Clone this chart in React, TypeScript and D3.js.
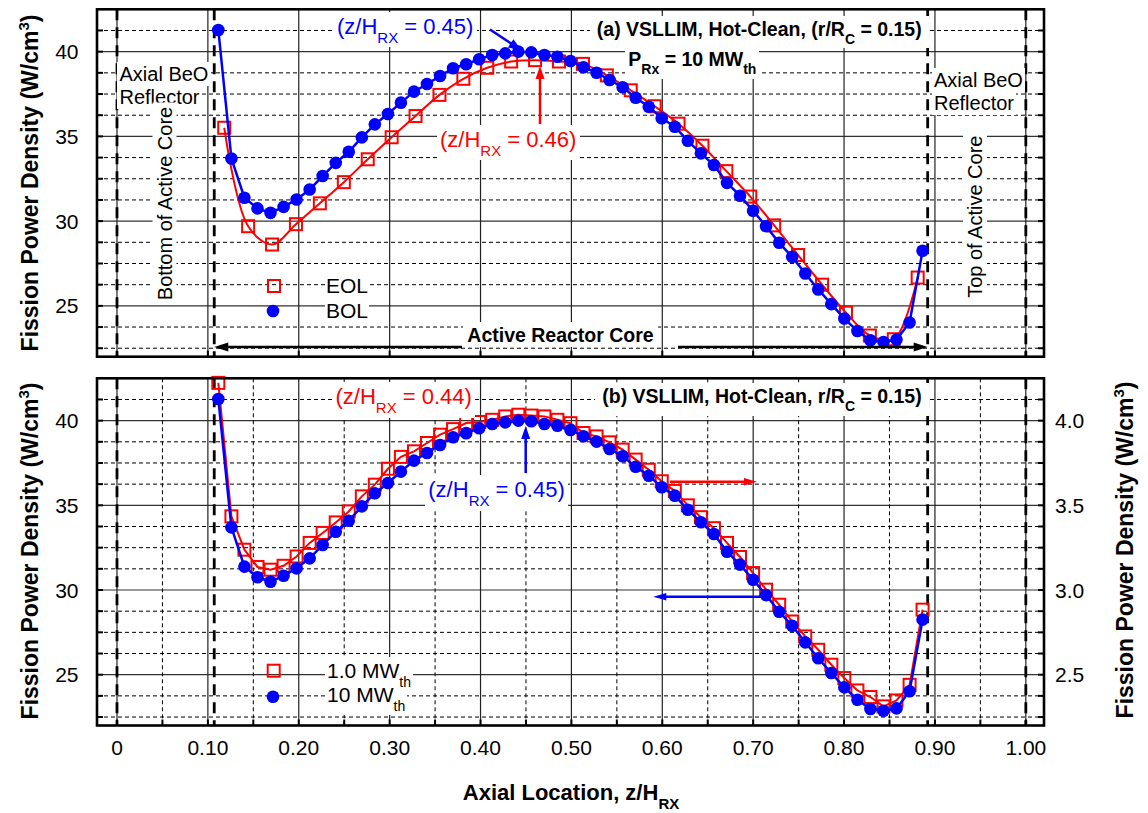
import React from "react";
import * as d3 from "d3";

// ---------------- data ----------------
const zBOL = [0.1115, 0.1259, 0.1402, 0.1546, 0.1689, 0.1833, 0.1976, 0.212, 0.2263, 0.2407, 0.255, 0.2694, 0.2837, 0.2981, 0.3124, 0.3268, 0.3411, 0.3555, 0.3698, 0.3842, 0.3985, 0.4129, 0.4272, 0.4416, 0.4559, 0.4703, 0.4846, 0.499, 0.5133, 0.5277, 0.542, 0.5564, 0.5707, 0.5851, 0.5994, 0.6138, 0.6281, 0.6425, 0.6568, 0.6712, 0.6855, 0.6999, 0.7142, 0.7286, 0.7429, 0.7573, 0.7716, 0.786, 0.8003, 0.8147, 0.829, 0.8434, 0.8577, 0.8721, 0.8864];
// BOL (top) and 10 MWth (bottom), W/cm3
const bolDensity = [41.28, 33.7, 31.38, 30.75, 30.49, 30.84, 31.28, 31.87, 32.66, 33.44, 34.09, 34.94, 35.71, 36.32, 36.99, 37.64, 38.09, 38.56, 39.02, 39.26, 39.55, 39.8, 39.9, 40.0, 39.96, 39.8, 39.7, 39.45, 39.08, 38.76, 38.33, 37.9, 37.28, 36.75, 36.07, 35.57, 34.74, 34.0, 33.31, 32.26, 31.5, 30.61, 29.7, 28.72, 27.89, 26.91, 25.97, 25.1, 24.25, 23.52, 22.97, 22.87, 23.01, 24.02, 28.25];
// EOL (top panel), W/cm3
const zEOL = [0.118, 0.1443, 0.1706, 0.1969, 0.2232, 0.2496, 0.2759, 0.3022, 0.3285, 0.3548, 0.3811, 0.4074, 0.4337, 0.46, 0.4863, 0.5127, 0.539, 0.5653, 0.5916, 0.6179, 0.6442, 0.6705, 0.6968, 0.7231, 0.7494, 0.7758, 0.8021, 0.8284, 0.8547, 0.881];
const eolDensity = [35.51, 29.7, 28.62, 29.82, 31.05, 32.3, 33.65, 34.95, 36.2, 37.45, 38.4, 39.05, 39.42, 39.5, 39.42, 39.28, 38.6, 37.72, 36.78, 35.75, 34.45, 32.95, 31.45, 29.75, 28.0, 26.25, 24.6, 23.25, 23.03, 26.67];
// 1.0 MWth (bottom panel, right axis), W/cm3
const mw1Density = [4.223, 3.435, 3.238, 3.136, 3.12, 3.143, 3.198, 3.278, 3.337, 3.399, 3.464, 3.553, 3.622, 3.716, 3.786, 3.819, 3.868, 3.917, 3.95, 3.986, 3.992, 4.005, 4.025, 4.035, 4.03, 4.025, 4.005, 3.985, 3.927, 3.907, 3.872, 3.829, 3.77, 3.71, 3.642, 3.585, 3.5, 3.43, 3.365, 3.278, 3.195, 3.1, 3.002, 2.913, 2.814, 2.726, 2.647, 2.559, 2.48, 2.407, 2.368, 2.313, 2.348, 2.44, 2.884];

const xMajorTicks = [0, 0.1, 0.2, 0.3, 0.4, 0.5, 0.6, 0.7, 0.8, 0.9, 1.0];
const xTickLabels = ["0", "0.10", "0.20", "0.30", "0.40", "0.50", "0.60", "0.70", "0.80", "0.90", "1.00"];
const xMinorTicks = [0.05, 0.15, 0.25, 0.35, 0.45, 0.55, 0.65, 0.75, 0.85, 0.95];
const yMajorTicks = [25, 30, 35, 40];
const yMinorTicks = [22.5, 23.75, 26.25, 27.5, 28.75, 31.25, 32.5, 33.75, 36.25, 37.5, 38.75, 41.25];
const yRightTicks = [2.5, 3.0, 3.5, 4.0];
const yRightLabels = ["2.5", "3.0", "3.5", "4.0"];
const reflectorBounds = [0, 1.0];
const coreBounds = [0.107, 0.892];

// ---------------- layout ----------------
const W = 1148, H = 813;
const X0 = 97, X1 = 1044;
const A_TOP = 9.3, A_BOT = 356.7;
const B_TOP = 378.3, B_BOT = 725.5;
const FONT = "'Liberation Sans', Arial, Helvetica, sans-serif";
const BLUE = "#0000ff";
const RED = "#ff0000";

const xS = d3.scaleLinear().domain([-0.022, 1.02]).range([X0, X1]);
const yA = d3.scaleLinear().domain([22, 42.5]).range([A_BOT, A_TOP]);
const yB = d3.scaleLinear().domain([22, 42.5]).range([B_BOT, B_TOP]);
const yBR = d3.scaleLinear().domain([2.2, 4.25]).range([B_BOT, B_TOP]);

function Arrow({ x1, y1, x2, y2, color, len = 12, hw = 4.5, sw = 2.5 }: any) {
  const dx = x2 - x1, dy = y2 - y1;
  const L = Math.hypot(dx, dy);
  const ux = dx / L, uy = dy / L;
  const bx = x2 - ux * len, by = y2 - uy * len;
  const px = -uy, py = ux;
  return (
    <g>
      <line x1={x1} y1={y1} x2={bx + ux} y2={by + uy} stroke={color} strokeWidth={sw} />
      <path d={`M${x2},${y2}L${bx + px * hw},${by + py * hw}L${bx - px * hw},${by - py * hw}Z`} fill={color} />
    </g>
  );
}

// text drawn on a white box (box layer + crisp text layer)
function BgText({ children, ...rest }: any) {
  return (
    <g>
      <text {...rest} filter="url(#wbg)">{children}</text>
      <text {...rest}>{children}</text>
    </g>
  );
}

function Grid({ y, top, bot, minorX }: any) {
  return (
    <g>
      {yMinorTicks.map((v) => (
        <line key={"hm" + v} x1={X0} x2={X1} y1={y(v)} y2={y(v)} stroke="#000" strokeWidth={1} strokeDasharray="4,3" />
      ))}
      {yMajorTicks.map((v) => (
        <line key={"hM" + v} x1={X0} x2={X1} y1={y(v)} y2={y(v)} stroke="#333" strokeWidth={1.2} />
      ))}
      {minorX &&
        xMinorTicks.map((v) => (
          <line key={"vm" + v} x1={xS(v)} x2={xS(v)} y1={top} y2={bot} stroke="#000" strokeWidth={1} strokeDasharray="4,3" />
        ))}
      {xMajorTicks.map((v) => (
        <line key={"vM" + v} x1={xS(v)} x2={xS(v)} y1={top} y2={bot} stroke="#222" strokeWidth={1.2} />
      ))}
      {[...reflectorBounds, ...coreBounds].map((v) => (
        <line key={"bd" + v} x1={xS(v)} x2={xS(v)} y1={top} y2={bot} stroke="#000" strokeWidth={2.8} strokeDasharray="11,7" />
      ))}
    </g>
  );
}

function Frame({ y, top, bot, minorX }: any) {
  const ticks = [...yMajorTicks, ...yMinorTicks];
  const xt = minorX ? [...xMajorTicks, ...xMinorTicks] : xMajorTicks;
  return (
    <g>
      {ticks.map((v) => (
        <g key={"t" + v}>
          <line x1={X0} x2={X0 + 6} y1={y(v)} y2={y(v)} stroke="#000" strokeWidth={2} />
          <line x1={X1 - 6} x2={X1} y1={y(v)} y2={y(v)} stroke="#000" strokeWidth={2} />
        </g>
      ))}
      {xt.map((v) => (
        <line key={"xt" + v} x1={xS(v)} x2={xS(v)} y1={bot} y2={bot - 6} stroke="#000" strokeWidth={2} />
      ))}
      <rect x={X0} y={top} width={X1 - X0} height={bot - top} fill="none" stroke="#000" strokeWidth={2.6} />
    </g>
  );
}

function Square({ cx, cy, s = 12 }: any) {
  return <rect x={cx - s / 2} y={cy - s / 2} width={s} height={s} fill="none" stroke={RED} strokeWidth={2} />;
}

function ZLabel({ x, y, color, value }: any) {
  return (
    <BgText x={x} y={y} fill={color} fontSize={22}>
      (z/H<tspan dy={9} fontSize={15}>RX</tspan>
      <tspan dy={-9}> = {value})</tspan>
    </BgText>
  );
}

function YLabel({ x, y }: any) {
  return (
    <text transform={`translate(${x},${y}) rotate(-90)`} textAnchor="middle" fontSize={23} fontWeight="bold">
      Fission Power Density (W/cm<tspan dy={-9} fontSize={15}>3</tspan>
      <tspan dy={9}>)</tspan>
    </text>
  );
}

function MWLegendText({ x, y, label, filter }: any) {
  return (
    <text x={x} y={y} fontSize={21} filter={filter}>
      {label}
      <tspan dy={9} fontSize={14}>th</tspan>
    </text>
  );
}

export default function App() {
  const lineA = d3.line<number>().x((_, i) => xS(zBOL[i])).y((d) => yA(d));
  const lineEOL = d3.line<number>().x((_, i) => xS(zEOL[i])).y((d) => yA(d)).curve(d3.curveCatmullRom.alpha(0.5));
  const lineB = d3.line<number>().x((_, i) => xS(zBOL[i])).y((d) => yB(d));
  const lineMW1 = d3.line<number>().x((_, i) => xS(zBOL[i])).y((d) => yBR(d));

  return (
    <svg width={W} height={H} style={{ position: "absolute", left: 0, top: 0, background: "#fff" }} fontFamily={FONT}>
      <defs>
        <filter id="wbg" x="-0.02" y="-0.04" width="1.04" height="1.08" colorInterpolationFilters="sRGB">
          <feFlood floodColor="#ffffff" result="bg" />
          <feMerge>
            <feMergeNode in="bg" />
          </feMerge>
        </filter>
      </defs>
      <rect x={0} y={0} width={W} height={H} fill="#fff" />

      {/* ---------- Panel (a) ---------- */}
      <Grid y={yA} top={A_TOP} bot={A_BOT} minorX={false} />
      <path d={lineEOL(eolDensity) || ""} fill="none" stroke={RED} strokeWidth={2} />
      {eolDensity.map((v, i) => (
        <Square key={"e" + i} cx={xS(zEOL[i])} cy={yA(v)} />
      ))}
      <path d={lineA(bolDensity) || ""} fill="none" stroke={BLUE} strokeWidth={2.5} />
      {bolDensity.map((v, i) => (
        <circle key={"b" + i} cx={xS(zBOL[i])} cy={yA(v)} r={6.3} fill={BLUE} />
      ))}

      <g fontSize={20}>
        <BgText x={119.5} y={81}>Axial BeO</BgText>
        <BgText x={119.5} y={104}>Reflector</BgText>
        <BgText x={934} y={87}>Axial BeO</BgText>
        <BgText x={934} y={110}>Reflector</BgText>
        <BgText transform="translate(171.5,203.5) rotate(-90)" textAnchor="middle">Bottom of Active Core</BgText>
        <BgText transform="translate(982,216.7) rotate(-90)" textAnchor="middle">Top of Active Core</BgText>
      </g>
      <ZLabel x={337} y={33.5} color={BLUE} value="0.45" />
      <ZLabel x={440} y={146.7} color={RED} value="0.46" />
      <Arrow x1={490} y1={29.5} x2={521.5} y2={50.5} color={BLUE} len={13} hw={5} />
      <Arrow x1={540} y1={124} x2={540} y2={66} color={RED} len={13} hw={4.5} />
      <BgText x={921.7} y={35.5} textAnchor="end" fontSize={19.5} fontWeight="bold">
        (a) VSLLIM, Hot-Clean, (r/R<tspan dy={8} fontSize={14}>C</tspan>
        <tspan dy={-8}> = 0.15)</tspan>
      </BgText>
      <BgText x={628.3} y={66} fontSize={19.5} fontWeight="bold">
        P<tspan dy={8} fontSize={14}>Rx</tspan>
        <tspan dy={-8}> = 10 MW</tspan>
        <tspan dy={8} fontSize={14}>th</tspan>
      </BgText>
      <Square cx={274} cy={286} />
      <circle cx={273} cy={311} r={6.3} fill={BLUE} />
      <g fontSize={21}>
        <text x={326} y={292.7} filter="url(#wbg)">EOL</text>
        <text x={326} y={317.7} filter="url(#wbg)">BOL</text>
        <text x={326} y={292.7}>EOL</text>
        <text x={326} y={317.7}>BOL</text>
      </g>
      <BgText x={560.5} y={341.5} textAnchor="middle" fontSize={19.5} fontWeight="bold">Active Reactor Core</BgText>
      <Arrow x1={462} y1={347} x2={xS(coreBounds[0])} y2={347} color="#000" len={14} hw={4.5} sw={2.5} />
      <Arrow x1={678} y1={347} x2={xS(coreBounds[1])} y2={347} color="#000" len={14} hw={4.5} sw={2.5} />
      <Frame y={yA} top={A_TOP} bot={A_BOT} minorX={false} />

      {/* ---------- Panel (b) ---------- */}
      <Grid y={yB} top={B_TOP} bot={B_BOT} minorX={true} />
      <path d={lineMW1(mw1Density) || ""} fill="none" stroke={RED} strokeWidth={2} />
      {mw1Density.map((v, i) => (
        <Square key={"m" + i} cx={xS(zBOL[i])} cy={yBR(v)} />
      ))}
      <path d={lineB(bolDensity) || ""} fill="none" stroke={BLUE} strokeWidth={2.5} />
      {bolDensity.map((v, i) => (
        <circle key={"c" + i} cx={xS(zBOL[i])} cy={yB(v)} r={6.3} fill={BLUE} />
      ))}
      <ZLabel x={335.5} y={404} color={RED} value="0.44" />
      <ZLabel x={428.3} y={497} color={BLUE} value="0.45" />
      <Arrow x1={525.7} y1={473} x2={525.7} y2={426} color={BLUE} len={13} hw={4.5} />
      <Arrow x1={670} y1={481.7} x2={757} y2={481.7} color={RED} len={13} hw={3.8} />
      <Arrow x1={761.7} y1={596.7} x2={653.3} y2={596.7} color={BLUE} len={13} hw={3.8} />
      <BgText x={921.7} y={403} textAnchor="end" fontSize={19.5} fontWeight="bold">
        (b) VSLLIM, Hot-Clean, r/R<tspan dy={8} fontSize={14}>C</tspan>
        <tspan dy={-8}> = 0.15)</tspan>
      </BgText>
      <Square cx={273.7} cy={670.7} />
      <circle cx={273} cy={696.7} r={6.3} fill={BLUE} />
      <MWLegendText x={327} y={678} label="1.0 MW" filter="url(#wbg)" />
      <MWLegendText x={327} y={701.5} label="10 MW" filter="url(#wbg)" />
      <MWLegendText x={327} y={678} label="1.0 MW" />
      <MWLegendText x={327} y={701.5} label="10 MW" />
      <Frame y={yB} top={B_TOP} bot={B_BOT} minorX={true} />

      {/* ---------- axes labels ---------- */}
      <g fontSize={21}>
        {yMajorTicks.map((v) => (
          <text key={"la" + v} x={78.5} y={yA(v) + 7.5} textAnchor="end">{v}</text>
        ))}
        {yMajorTicks.map((v) => (
          <text key={"lb" + v} x={78.5} y={yB(v) + 7.5} textAnchor="end">{v}</text>
        ))}
        {yRightTicks.map((v, i) => (
          <text key={"r" + v} x={1055} y={yBR(v) + 7.5}>{yRightLabels[i]}</text>
        ))}
        {xMajorTicks.map((v, i) => (
          <text key={"x" + v} x={xS(v)} y={755} textAnchor="middle">{xTickLabels[i]}</text>
        ))}
      </g>
      <YLabel x={38} y={183} />
      <YLabel x={38} y={551} />
      <YLabel x={1133} y={550} />
      <text x={571} y={800} textAnchor="middle" fontSize={22} fontWeight="bold">
        Axial Location, z/H<tspan dy={9} fontSize={15}>RX</tspan>
      </text>
    </svg>
  );
}
